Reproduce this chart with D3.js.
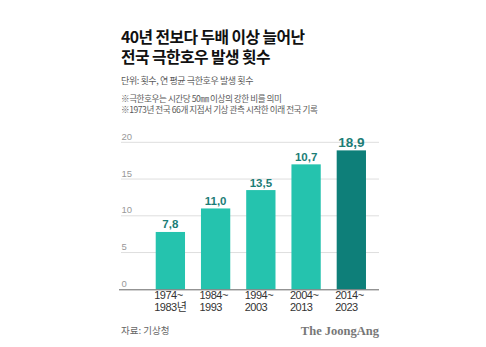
<!DOCTYPE html>
<html><head><meta charset="utf-8">
<script src="https://cdn.jsdelivr.net/npm/d3@7"></script>
<style>
html,body{margin:0;padding:0;background:#fff;}
svg{display:block;font-family:"Noto Sans CJK KR","Noto Sans",sans-serif;}
</style></head>
<body>
<svg id="c" width="486" height="347"></svg>
<script>
const categories = [["1974~","1983년"],["1984~","1993"],["1994~","2003"],["2004~","2013"],["2014~","2023"]];
const values = [7.8, 11.0, 13.5, 17.0, 18.9];
const valueLabels = ["7,8","11,0","13,5","10,7","18,9"];
const yTicks = [0,5,10,15,20];

(function(){
const svg = d3.select("#c");
const plotLeft = 119, plotRight = 379, plotTop = 142.3, plotBottom = 289.3;

const title = svg.append("text").attr("font-size",15.8).attr("font-weight",700).attr("fill","#111").attr("letter-spacing","-0.55");
title.append("tspan").attr("x",121).attr("y",43).text("40년 전보다 두배 이상 늘어난");
title.append("tspan").attr("x",121).attr("y",63).text("전국 극한호우 발생 횟수");
svg.append("text").attr("x",121).attr("y",84).attr("font-size",9).attr("fill","#5a5a5a").attr("letter-spacing","-0.4").text("단위: 횟수, 연 평균 극한호우 발생 횟수");
const notes = svg.append("text").attr("font-size",8.6).attr("fill","#5a5a5a").attr("letter-spacing","-0.45");
notes.append("tspan").attr("x",121).attr("y",101.5).text("※극한호우는 시간당 50㎜ 이상의 강한 비를 의미");
notes.append("tspan").attr("x",121).attr("y",112.5).text("※1973년 전국 66개 지점서 기상 관측 시작한 이래 전국 기록");

const x = d3.scaleBand().domain(d3.range(values.length)).range([133.1, 388.6]).paddingInner(0.3525).paddingOuter(0.5);
const y = d3.scaleLinear().domain([0,20]).range([plotBottom, plotTop]);

svg.append("g").selectAll("line").data(yTicks.filter(d=>d>0)).join("line")
  .attr("x1",121).attr("x2",plotRight).attr("y1",d=>y(d)).attr("y2",d=>y(d))
  .attr("stroke","#dedede").attr("stroke-width",1);
svg.append("g").selectAll("text").data(yTicks).join("text")
  .attr("x",121.5).attr("y",d=>y(d)-2.5).attr("font-size",9.5).attr("fill","#999")
  .attr("font-family","Liberation Sans, Arial, sans-serif").text(d=>d);

svg.append("g").selectAll("rect").data(values).join("rect")
  .attr("x",(d,i)=>x(i)).attr("width",x.bandwidth())
  .attr("y",d=>y(d)).attr("height",d=>plotBottom-y(d))
  .attr("fill",(d,i)=>i===values.length-1?"#0e7f79":"#25c3ae");

svg.append("line").attr("x1",plotLeft).attr("x2",plotRight).attr("y1",plotBottom+0.5).attr("y2",plotBottom+0.5).attr("stroke","#666").attr("stroke-width",1);

svg.append("g").selectAll("text").data(values).join("text")
  .attr("x",(d,i)=>x(i)+x.bandwidth()/2).attr("y",d=>y(d)-3.5)
  .attr("text-anchor","middle").attr("font-weight",700)
  .attr("font-size",(d,i)=>i===values.length-1?13.5:11.5)
  .attr("font-family","Liberation Sans, Arial, sans-serif")
  .attr("fill","#1b7d76").text((d,i)=>valueLabels[i]);

const xl = svg.append("g").selectAll("text").data(categories).join("text")
  .attr("font-size",11).attr("fill","#333").attr("letter-spacing","-0.5")
  .attr("font-family","Liberation Sans, Arial, 'Noto Sans CJK KR', sans-serif");
xl.each(function(d,i){
  const t = d3.select(this);
  d.forEach((s,j)=>t.append("tspan").attr("x",x(i)-1.5).attr("y",299+j*12).text(s));
});

svg.append("text").attr("x",121).attr("y",334).attr("font-size",9.5).attr("fill","#666").text("자료: 기상청");
svg.append("text").attr("x",379).attr("y",335).attr("text-anchor","end").attr("font-size",12.5).attr("font-weight",700)
  .attr("font-family","Liberation Serif, 'DejaVu Serif', serif").attr("fill","#777").text("The JoongAng");
})();
</script>
</body></html>
